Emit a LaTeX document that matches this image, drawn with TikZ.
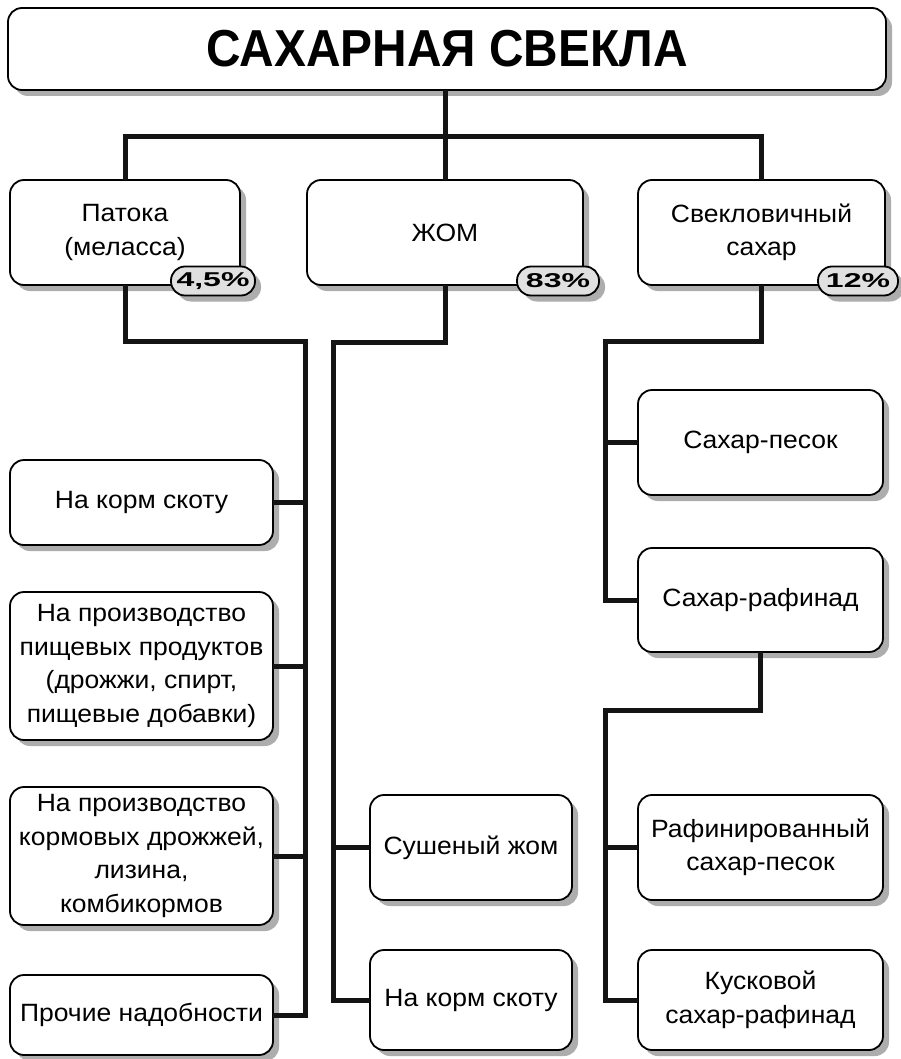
\documentclass[tikz,border=0pt]{standalone}
\usepackage{fontspec}
\setmainfont{Liberation Sans}
\newfontfamily\bodyf{Liberation Sans}[FakeStretch=1.06]
\newfontfamily\titlef{Liberation Sans}[FakeStretch=0.92]
\newfontfamily\badgef{Liberation Sans}[FakeStretch=1.6]
\usetikzlibrary{shadows}
\begin{document}
\begin{tikzpicture}[x=1pt,y=-1pt,
  shad/.style={drop shadow={shadow xshift=6pt, shadow yshift=-6pt, fill=black!32, opacity=1}},
  box/.style={draw=black, line width=1.8pt, rounded corners=14pt, fill=white, align=center,
    inner sep=0pt, outer sep=0pt, shad, font=\bodyf\fontsize{25}{33.5}\selectfont},
  conn/.style={line width=5pt, draw=black!92, line join=miter},
  badge/.style={draw=black, line width=1.8pt, rounded corners=14pt, fill=black!12,
    minimum width=82pt, minimum height=29pt, inner sep=0pt, shad,
    font=\badgef\bfseries\fontsize{20}{20}\selectfont}]
\useasboundingbox (0,0) rectangle (901,1059);
\fill[white] (0,0) rectangle (901,1059);

% title
\node[box, minimum width=878pt, minimum height=82pt, font=\titlef\bfseries\fontsize{52}{56}\selectfont] (title) at (447,49) {САХАРНАЯ СВЕКЛА};

% first row
\node[box, minimum width=230pt, minimum height=105pt] (A) at (125,232.5) {Патока\\(меласса)};
\node[box, minimum width=276pt, minimum height=105pt] (B) at (445,232.5) {ЖОМ};
\node[box, minimum width=247pt, minimum height=105pt] (C) at (761.5,232.5) {Свекловичный\\сахар};

% left column
\node[box, minimum width=263pt, minimum height=85pt] (L1) at (141.5,502.5) {На корм скоту};
\node[box, minimum width=263pt, minimum height=148pt] (L2) at (141.5,666) {На производство\\пищевых продуктов\\(дрожжи, спирт,\\пищевые добавки)};
\node[box, minimum width=263pt, minimum height=138pt] (L3) at (141.5,856) {На производство\\кормовых дрожжей,\\лизина,\\комбикормов};
\node[box, minimum width=263pt, minimum height=80pt] (L4) at (141.5,1015) {Прочие надобности};

% middle column
\node[box, minimum width=202pt, minimum height=105pt] (M1) at (471,847.5) {Сушеный жом};
\node[box, minimum width=202pt, minimum height=100pt] (M2) at (471,1000) {На корм скоту};

% right column
\node[box, minimum width=245pt, minimum height=105pt] (R1) at (760.5,442.5) {Сахар-песок};
\node[box, minimum width=245pt, minimum height=104pt] (R2) at (760.5,600) {Сахар-рафинад};
\node[box, minimum width=245pt, minimum height=105pt] (R3) at (760.5,847.5) {Рафинированный\\сахар-песок};
\node[box, minimum width=245pt, minimum height=100pt] (R4) at (760.5,1000) {Кусковой\\сахар-рафинад};

% badges
\node[badge, minimum width=84pt] (pA) at (213,281) {4,5\%};
\node[badge] (pB) at (558,281) {83\%};
\node[badge, minimum width=80pt] (pC) at (858,281) {12\%};

% junction coordinates
\coordinate (j1) at (445,137);
\coordinate (jA) at (305,341);
\coordinate (jB) at (333,342);
\coordinate (jC) at (605,341);
\coordinate (jR) at (605,710);

% connectors
\draw[conn] (j1 |- title.south) -- (j1);
\draw[conn] (A.north) |- (j1) -| (C.north);
\draw[conn] (j1) -- (B.north);

\draw[conn] (A.south) |- (jA) -- (jA |- L4.east) -- (L4.east);
\draw[conn] (L1.east) -- (L1.east -| jA);
\draw[conn] (L2.east) -- (L2.east -| jA);
\draw[conn] (L3.east) -- (L3.east -| jA);

\draw[conn] (B.south) |- (jB) -- (jB |- M2.west) -- (M2.west);
\draw[conn] (M1.west) -- (M1.west -| jB);

\draw[conn] (C.south) |- (jC) -- (jC |- R2.west) -- (R2.west);
\draw[conn] (R1.west) -- (R1.west -| jC);

\draw[conn] (R2.south) |- (jR) -- (jR |- R4.west) -- (R4.west);
\draw[conn] (R3.west) -- (R3.west -| jR);
\end{tikzpicture}
\end{document}
